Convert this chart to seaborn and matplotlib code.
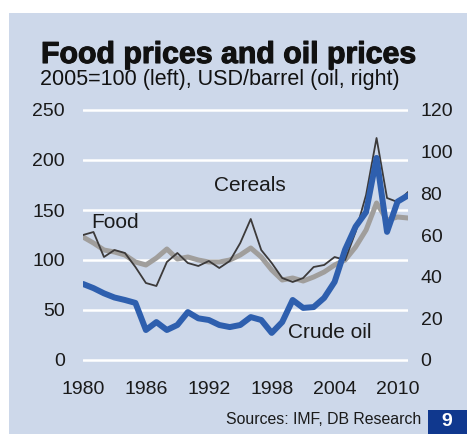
import matplotlib.pyplot as plt
import matplotlib.patheffects as pe
import pandas as pd
import seaborn as sns
from matplotlib.patches import Rectangle

# annual values, 1980-2011
years = list(range(1980, 2012))
food = [123, 117, 110, 108, 105, 98, 95, 102, 111, 101,
        103, 100, 98, 98, 100, 105, 112, 103, 90, 80,
        82, 79, 83, 88, 95, 100, 113, 130, 157, 140,
        143, 142]
cereals = [125, 128, 103, 110, 107, 93, 77, 74, 98, 107,
           97, 94, 99, 92, 99, 117, 141, 110, 97, 82,
           78, 82, 93, 95, 103, 100, 128, 165, 222, 162,
           158, 168]
crude_oil = [36.5, 34.5, 32.0, 30.0, 28.8, 27.4, 14.4, 18.2, 14.4, 16.8,
             23.0, 20.0, 19.2, 16.8, 15.8, 16.8, 20.6, 19.2, 13.0, 18.2,
             28.8, 25.0, 25.4, 29.8, 37.5, 53.0, 64.0, 71.0, 97.0, 61.5,
             76.0, 79.0]

left_ticks = [0, 50, 100, 150, 200, 250]
right_ticks = [0, 20, 40, 60, 80, 100, 120]
year_ticks = [1980, 1986, 1992, 1998, 2004, 2010]

PANEL = "#cdd8ea"
GREY = "#a09e9c"
DARK = "#3c3a3a"
BLUE = "#2e5fae"
NAVY = "#10388e"

sns.set_theme(style="white")
plt.rcParams["font.family"] = ["Liberation Sans", "DejaVu Sans"]

fig = plt.figure(figsize=(4.67, 4.34), dpi=100)
fig.patch.set_facecolor("white")
fig.add_artist(Rectangle((9 / 467, 0), 1, 1 - 13 / 434, transform=fig.transFigure,
                         facecolor=PANEL, edgecolor="none", zorder=0))

ax = fig.add_axes([83 / 467, 1 - 362 / 434, 325 / 467, 254 / 434])
ax.set_facecolor("none")

df = pd.DataFrame({"year": years, "Food": food, "Cereals": cereals})
sns.lineplot(data=df, x="year", y="Food", color=GREY, linewidth=3.6, ax=ax)
sns.lineplot(data=df, x="year", y="Cereals", color=DARK, linewidth=1.3, ax=ax)

ax.set_xlim(1980, 2011)
ax.set_ylim(-2, 252)
ax.set_yticks(left_ticks)
ax.set_xticks(year_ticks)
ax.yaxis.grid(True, color="white", linewidth=1.8)
ax.set_axisbelow(True)
ax.set_xlabel("")
ax.set_ylabel("")
ax.tick_params(axis="y", length=0, labelsize=14, pad=13, colors="#1a1a1a")
ax.tick_params(axis="x", length=0, labelsize=14, pad=14, colors="#1a1a1a")

ax2 = ax.twinx()
oil = pd.DataFrame({"year": years, "Crude oil": crude_oil})
sns.lineplot(data=oil, x="year", y="Crude oil", color=BLUE, linewidth=4.3, ax=ax2)
ax2.set_ylim(-2 * 0.48, 252 * 0.48)
ax2.set_yticks(right_ticks)
ax2.set_ylabel("")
ax2.grid(False)
ax2.tick_params(axis="y", length=0, labelsize=14, pad=9, colors="#1a1a1a")

for a in (ax, ax2):
    for s in a.spines.values():
        s.set_visible(False)

ax.text(1992.5, 175, "Cereals", fontsize=15, va="center", color="#1a1a1a")
ax.text(1980.8, 138, "Food", fontsize=15, va="center", color="#1a1a1a")
ax.text(1999.6, 27, "Crude oil", fontsize=15, va="center", color="#1a1a1a")

fig.text(41 / 467, 1 - 63 / 434, "Food prices and oil prices", fontsize=21.8,
         fontweight="bold", va="baseline", color="#111111",
         path_effects=[pe.withStroke(linewidth=0.8, foreground="#111111")])
fig.text(40 / 467, 1 - 85 / 434, "2005=100 (left), USD/barrel (oil, right)",
         fontsize=15.5, va="baseline", color="#111111")

fig.text(421 / 467, 1 - 420 / 434, "Sources: IMF, DB Research", fontsize=11.4,
         ha="right", va="center", color="#1a1a1a")
fig.add_artist(Rectangle((428 / 467, 0), 39 / 467, 24 / 434, transform=fig.transFigure,
                         facecolor=NAVY, edgecolor="none"))
fig.text(447 / 467, 1 - 422 / 434, "9", fontsize=14, fontweight="bold",
         ha="center", va="center", color="white")

fig.savefig("out.png", dpi=100)
